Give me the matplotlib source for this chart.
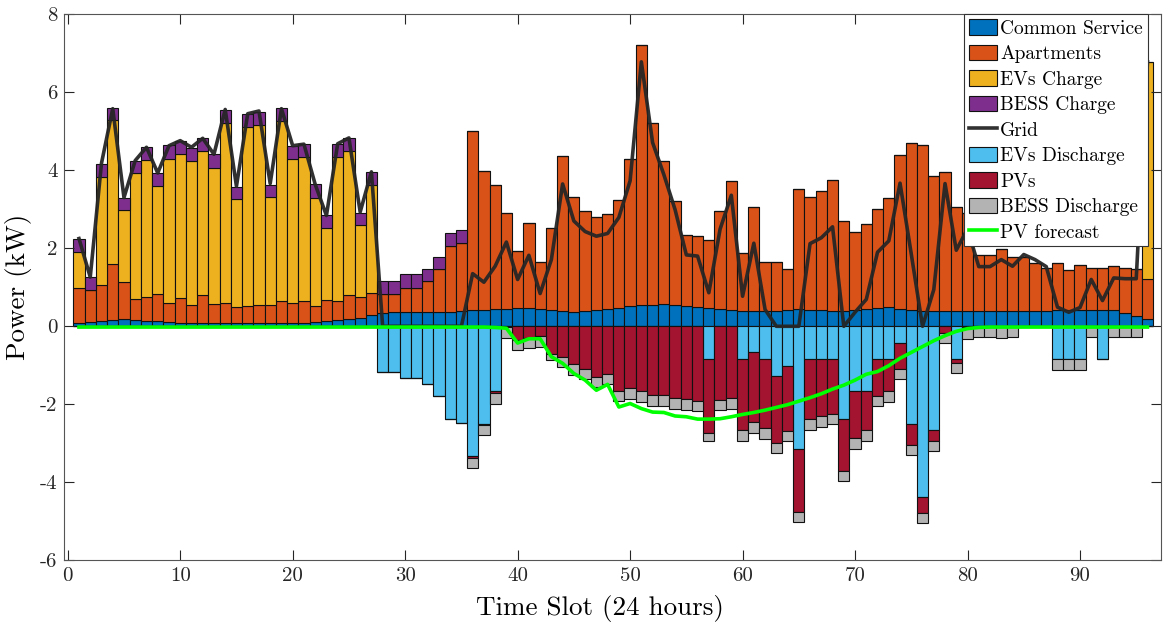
import matplotlib
matplotlib.use("Agg")
import matplotlib.pyplot as plt
import numpy as np

plt.rcParams['font.family'] = ['cmr10', 'DejaVu Serif']
plt.rcParams['mathtext.fontset'] = 'cm'
plt.rcParams['axes.unicode_minus'] = False
plt.rcParams['axes.formatter.use_mathtext'] = False

slots = np.arange(1, 97)

common_service = [0.08, 0.10, 0.14, 0.16, 0.18, 0.16, 0.14, 0.14, 0.10, 0.08, 0.08, 0.08,
                  0.08, 0.08, 0.08, 0.08, 0.08, 0.08, 0.08, 0.08, 0.08, 0.11, 0.14, 0.17,
                  0.19, 0.21, 0.30, 0.33, 0.37, 0.37, 0.37, 0.37, 0.36, 0.37, 0.39, 0.41,
                  0.41, 0.44, 0.44, 0.47, 0.47, 0.44, 0.42, 0.40, 0.36, 0.39, 0.42, 0.44,
                  0.47, 0.51, 0.54, 0.55, 0.58, 0.55, 0.51, 0.50, 0.47, 0.45, 0.42, 0.40,
                  0.39, 0.39, 0.40, 0.43, 0.45, 0.43, 0.43, 0.40, 0.40, 0.43, 0.45, 0.48,
                  0.49, 0.45, 0.43, 0.39, 0.40, 0.40, 0.38, 0.40, 0.40, 0.40, 0.40, 0.40,
                  0.40, 0.40, 0.40, 0.42, 0.42, 0.42, 0.42, 0.42, 0.42, 0.34, 0.26, 0.19]

apartments = [0.90, 0.82, 0.93, 1.43, 0.95, 0.54, 0.62, 0.69, 0.50, 0.64, 0.47, 0.73,
              0.50, 0.52, 0.41, 0.43, 0.47, 0.47, 0.58, 0.52, 0.58, 0.42, 0.54, 0.49,
              0.62, 0.55, 0.56, 0.51, 0.47, 0.61, 0.61, 0.79, 1.10, 1.68, 1.75, 4.59,
              3.58, 3.19, 2.47, 1.47, 2.19, 1.22, 2.11, 3.96, 2.95, 2.57, 2.38, 2.44,
              2.76, 3.78, 6.67, 4.66, 3.65, 2.67, 1.84, 1.82, 1.74, 2.51, 3.30, 1.49,
              2.68, 1.25, 1.24, 1.04, 3.07, 2.88, 3.05, 3.35, 2.29, 1.98, 2.17, 2.52,
              2.80, 3.93, 4.27, 4.27, 3.46, 3.55, 2.68, 2.50, 1.42, 1.42, 1.57, 1.38,
              1.38, 1.23, 1.10, 1.21, 1.02, 1.16, 1.08, 1.07, 1.13, 1.15, 1.20, 1.03]

ev_charge = [0.92, 0.00, 2.77, 3.69, 1.84, 3.22, 3.51, 2.76, 3.69, 3.69, 3.69, 3.69,
             3.49, 4.61, 2.77, 4.61, 4.61, 2.77, 4.61, 3.69, 3.69, 2.77, 1.84, 3.69,
             3.69, 1.84, 2.77, 0.00, 0.00, 0.00, 0.00, 0.00, 0.00, 0.00, 0.00, 0.00,
             0.00, 0.00, 0.00, 0.00, 0.00, 0.00, 0.00, 0.00, 0.00, 0.00, 0.00, 0.00,
             0.00, 0.00, 0.00, 0.00, 0.00, 0.00, 0.00, 0.00, 0.00, 0.00, 0.00, 0.00,
             0.00, 0.00, 0.00, 0.00, 0.00, 0.00, 0.00, 0.00, 0.00, 0.00, 0.00, 0.00,
             0.00, 0.00, 0.00, 0.00, 0.00, 0.00, 0.00, 0.00, 0.00, 0.00, 0.00, 0.00,
             0.00, 0.00, 0.00, 0.00, 0.00, 0.00, 0.00, 0.00, 0.00, 0.00, 0.00, 5.56]

bess_charge = [0.34, 0.35, 0.32, 0.32, 0.33, 0.33, 0.32, 0.34, 0.35, 0.33, 0.32, 0.32,
               0.34, 0.34, 0.31, 0.32, 0.33, 0.31, 0.32, 0.34, 0.33, 0.34, 0.33, 0.32,
               0.32, 0.31, 0.32, 0.31, 0.31, 0.35, 0.35, 0.31, 0.32, 0.33, 0.34, 0.00,
               0.00, 0.00, 0.00, 0.00, 0.00, 0.00, 0.00, 0.00, 0.00, 0.00, 0.00, 0.00,
               0.00, 0.00, 0.00, 0.00, 0.00, 0.00, 0.00, 0.00, 0.00, 0.00, 0.00, 0.00,
               0.00, 0.00, 0.00, 0.00, 0.00, 0.00, 0.00, 0.00, 0.00, 0.00, 0.00, 0.00,
               0.00, 0.00, 0.00, 0.00, 0.00, 0.00, 0.00, 0.00, 0.00, 0.00, 0.00, 0.00,
               0.00, 0.00, 0.00, 0.00, 0.00, 0.00, 0.00, 0.00, 0.00, 0.00, 0.00, 0.00]

# discharge / generation magnitudes (drawn below zero)
ev_discharge = [0.00, 0.00, 0.00, 0.00, 0.00, 0.00, 0.00, 0.00, 0.00, 0.00, 0.00, 0.00,
                0.00, 0.00, 0.00, 0.00, 0.00, 0.00, 0.00, 0.00, 0.00, 0.00, 0.00, 0.00,
                0.00, 0.00, 0.00, 1.16, 1.16, 1.32, 1.32, 1.49, 1.79, 2.39, 2.47, 3.33,
                2.50, 1.66, 0.00, 0.00, 0.00, 0.00, 0.00, 0.00, 0.00, 0.00, 0.00, 0.00,
                0.00, 0.00, 0.00, 0.00, 0.00, 0.00, 0.00, 0.00, 0.84, 0.00, 0.00, 0.84,
                0.67, 0.84, 1.28, 1.01, 3.14, 0.84, 0.84, 0.84, 2.37, 1.66, 1.66, 0.84,
                0.84, 0.43, 2.50, 4.39, 2.67, 0.00, 0.84, 0.00, 0.00, 0.00, 0.00, 0.00,
                0.00, 0.00, 0.00, 0.84, 0.84, 0.84, 0.00, 0.84, 0.00, 0.00, 0.00, 0.00]

pvs = [0.00, 0.00, 0.00, 0.00, 0.00, 0.00, 0.00, 0.00, 0.00, 0.00, 0.00, 0.00,
       0.00, 0.00, 0.00, 0.00, 0.00, 0.00, 0.00, 0.00, 0.00, 0.00, 0.00, 0.00,
       0.00, 0.00, 0.00, 0.00, 0.00, 0.00, 0.00, 0.00, 0.00, 0.00, 0.00, 0.04,
       0.03, 0.06, 0.03, 0.35, 0.29, 0.26, 0.72, 0.78, 0.97, 1.10, 1.29, 1.22,
       1.66, 1.59, 1.66, 1.76, 1.77, 1.85, 1.87, 1.91, 1.90, 1.89, 1.85, 1.83,
       1.78, 1.76, 1.71, 1.67, 1.61, 1.55, 1.46, 1.40, 1.33, 1.21, 1.01, 0.94,
       0.82, 0.67, 0.55, 0.40, 0.26, 0.17, 0.09, 0.03, 0.00, 0.00, 0.00, 0.00,
       0.00, 0.00, 0.00, 0.00, 0.00, 0.00, 0.00, 0.00, 0.00, 0.00, 0.00, 0.00]

bess_discharge = [0.00, 0.00, 0.00, 0.00, 0.00, 0.00, 0.00, 0.00, 0.00, 0.00, 0.00, 0.00,
                  0.00, 0.00, 0.00, 0.00, 0.00, 0.00, 0.00, 0.00, 0.00, 0.00, 0.00, 0.00,
                  0.00, 0.00, 0.00, 0.00, 0.00, 0.00, 0.00, 0.00, 0.00, 0.00, 0.00, 0.26,
                  0.27, 0.26, 0.27, 0.27, 0.27, 0.28, 0.15, 0.26, 0.28, 0.25, 0.26, 0.27,
                  0.26, 0.28, 0.29, 0.28, 0.27, 0.28, 0.27, 0.27, 0.19, 0.26, 0.28, 0.26,
                  0.28, 0.28, 0.26, 0.27, 0.28, 0.28, 0.28, 0.26, 0.26, 0.27, 0.28, 0.27,
                  0.28, 0.26, 0.26, 0.26, 0.27, 0.26, 0.28, 0.29, 0.28, 0.28, 0.30, 0.28,
                  0.00, 0.00, 0.00, 0.28, 0.28, 0.28, 0.28, 0.00, 0.28, 0.28, 0.28, 0.00]

grid = [2.25, 1.26, 4.18, 5.58, 3.30, 4.25, 4.59, 3.93, 4.63, 4.76, 4.59, 4.82,
        4.41, 5.56, 3.59, 5.45, 5.52, 3.66, 5.58, 4.63, 4.67, 3.64, 2.84, 4.68,
        4.83, 2.93, 3.96, 0.00, 0.00, 0.00, 0.00, 0.00, 0.00, 0.00, 0.00, 1.35,
        1.13, 1.54, 2.16, 1.20, 1.82, 0.84, 1.71, 3.65, 2.70, 2.43, 2.31, 2.38,
        2.79, 3.73, 6.78, 4.71, 3.89, 2.99, 1.83, 1.80, 0.86, 2.49, 3.36, 0.77,
        2.13, 0.43, 0.00, 0.00, 0.00, 2.12, 2.27, 2.55, 0.00, 0.36, 0.69, 1.90,
        2.19, 3.67, 1.85, 0.00, 0.94, 3.66, 1.95, 2.50, 1.53, 1.53, 1.71, 1.54,
        1.84, 1.71, 1.53, 0.49, 0.36, 0.48, 1.20, 0.66, 1.24, 1.22, 1.22, 6.78]

pv_forecast = [-0.02, -0.02, -0.02, -0.02, -0.02, -0.02, -0.02, -0.02, -0.02, -0.02, -0.02, -0.02,
               -0.02, -0.02, -0.02, -0.02, -0.02, -0.02, -0.02, -0.02, -0.02, -0.02, -0.02, -0.02,
               -0.02, -0.02, -0.02, -0.02, -0.02, -0.02, -0.02, -0.02, -0.02, -0.02, -0.02, -0.02,
               -0.02, -0.03, -0.05, -0.43, -0.32, -0.32, -0.78, -0.95, -1.21, -1.38, -1.64, -1.49,
               -2.07, -1.98, -2.11, -2.20, -2.21, -2.30, -2.32, -2.38, -2.38, -2.37, -2.32, -2.26,
               -2.21, -2.15, -2.08, -2.01, -1.92, -1.83, -1.73, -1.61, -1.51, -1.38, -1.23, -1.16,
               -1.01, -0.82, -0.67, -0.52, -0.37, -0.24, -0.13, -0.06, -0.03, -0.02, -0.02, -0.02,
               -0.02, -0.02, -0.02, -0.02, -0.02, -0.02, -0.02, -0.02, -0.02, -0.02, -0.02, -0.02]

colors = {
    'Common Service': '#0072BD',
    'Apartments': '#D95319',
    'EVs Charge': '#EDB120',
    'BESS Charge': '#7E2F8E',
    'EVs Discharge': '#4DBEEE',
    'PVs': '#A2142F',
    'BESS Discharge': '#B3B3B3',
}

fig = plt.figure(figsize=(11.64, 6.24), dpi=100)
ax = fig.add_axes([0.0553, 0.1021, 0.9421, 0.875])

bar_kw = dict(width=1.0, edgecolor='#111111', linewidth=0.8)

cs = np.array(common_service)
ap = np.array(apartments)
evc = np.array(ev_charge)
bc = np.array(bess_charge)
evd = np.array(ev_discharge)
pv = np.array(pvs)
bd = np.array(bess_discharge)

h_cs = ax.bar(slots, cs, color=colors['Common Service'], **bar_kw)
h_ap = ax.bar(slots, ap, bottom=cs, color=colors['Apartments'], **bar_kw)
h_evc = ax.bar(slots, evc, bottom=cs + ap, color=colors['EVs Charge'], **bar_kw)
h_bc = ax.bar(slots, bc, bottom=cs + ap + evc, color=colors['BESS Charge'], **bar_kw)
h_evd = ax.bar(slots, -evd, color=colors['EVs Discharge'], **bar_kw)
h_pv = ax.bar(slots, -pv, bottom=-evd, color=colors['PVs'], **bar_kw)
h_bd = ax.bar(slots, -bd, bottom=-(evd + pv), color=colors['BESS Discharge'], **bar_kw)

h_grid, = ax.plot(slots, grid, color='#262626', linewidth=2.6, alpha=0.95)
h_pvf, = ax.plot(slots, pv_forecast, color='#00FF00', linewidth=2.6)

ax.set_xlim(-0.3, 97.2)
ax.set_ylim(-6, 8)
ax.set_xticks(np.arange(0, 91, 10))
ax.set_yticks(np.arange(-6, 9, 2))
ax.tick_params(direction='in', top=True, right=True, length=7, width=0.8,
               colors='#262626', labelsize=15, pad=5)
for sp in ax.spines.values():
    sp.set_color('#555555')
    sp.set_linewidth(0.8)

ax.set_xlabel('Time Slot (24 hours)', fontsize=19.5)
ax.xaxis.set_label_coords(0.488, -0.064)
ax.set_ylabel('Power (kW)', fontsize=19.5, labelpad=6)

handles = [h_cs, h_ap, h_evc, h_bc, h_grid, h_evd, h_pv, h_bd, h_pvf]
labels = ['Common Service', 'Apartments', 'EVs Charge', 'BESS Charge', 'Grid',
          'EVs Discharge', 'PVs', 'BESS Discharge', 'PV forecast']
leg = ax.legend(handles, labels, loc='upper right', bbox_to_anchor=(0.988, 1.0),
                borderaxespad=0, fontsize=14, fancybox=False, framealpha=1,
                edgecolor='#333333', handlelength=1.45, handleheight=0.85,
                handletextpad=0.15, labelspacing=0.36, borderpad=0.25)
leg.get_frame().set_linewidth(0.8)

fig.savefig('out.png', dpi=100)
